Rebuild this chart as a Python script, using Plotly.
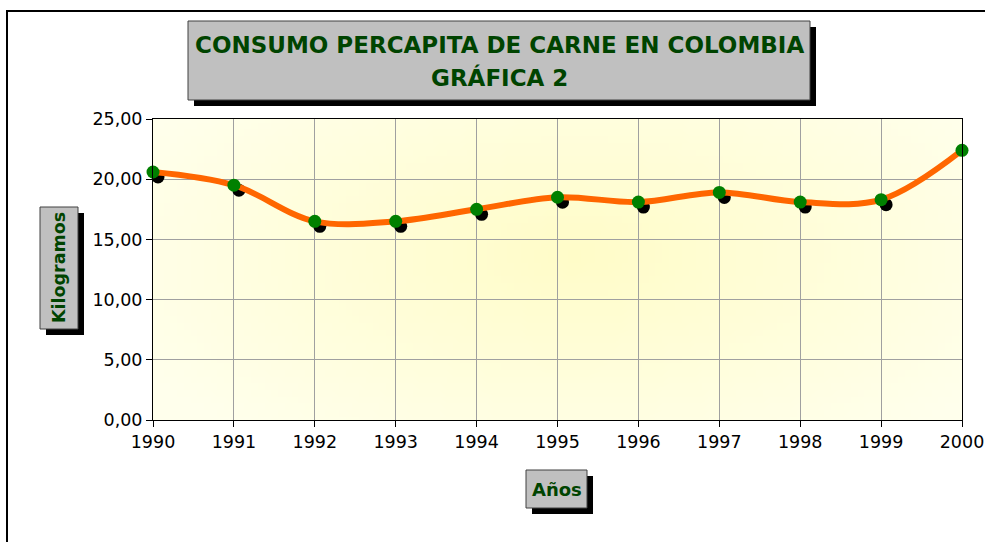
import base64
import struct
import zlib

import plotly.graph_objects as go

years = [1990, 1991, 1992, 1993, 1994, 1995, 1996, 1997, 1998, 1999, 2000]
consumo_kg = [20.6, 19.5, 16.5, 16.5, 17.5, 18.5, 18.1, 18.9, 18.1, 18.3, 22.4]
y_ticks = [0, 5, 10, 15, 20, 25]

title_lines = ["CONSUMO PERCAPITA DE CARNE EN COLOMBIA", "GRÁFICA 2"]
x_title = "Años"
y_title = "Kilogramos"

W, H = 985, 542
L, R, T, B = 153, 23, 119, 122
PW, PH = W - L - R, H - T - B
X0, X1 = years[0], years[-1]
Y0, Y1 = 0, 25


def px(x):
    return (x - L) / PW


def py(y):
    return (H - B - y) / PH


# radial gradient background image for the plot area
def gradient_png(w=120, h=45, c_in=(255, 252, 200), c_out=(255, 255, 236)):
    rows = b""
    for j in range(h):
        row = b"\x00"
        for i in range(w):
            u = (i + 0.5) / w - 0.52
            v = (j + 0.5) / h - 0.45
            t = min(1.0, ((u / 0.62) ** 2 + (v / 0.75) ** 2) ** 0.5)
            row += bytes(int(round(a + (b - a) * t)) for a, b in zip(c_in, c_out))
        rows += row

    def chunk(tag, data):
        c = struct.pack(">I", len(data)) + tag + data
        return c + struct.pack(">I", zlib.crc32(tag + data) & 0xFFFFFFFF)

    png = b"\x89PNG\r\n\x1a\n" + chunk(b"IHDR", struct.pack(">IIBBBBB", w, h, 8, 2, 0, 0, 0))
    png += chunk(b"IDAT", zlib.compress(rows)) + chunk(b"IEND", b"")
    return "data:image/png;base64," + base64.b64encode(png).decode()


# shadow offset of markers (pixels -> data units)
sh = 5
dx = sh * (X1 - X0) / PW
dy = sh * (Y1 - Y0) / PH

fig = go.Figure()
fig.add_trace(go.Scatter(
    x=[v + dx for v in years], y=[v - dy for v in consumo_kg],
    mode="markers", marker=dict(color="black", size=13),
    cliponaxis=False, hoverinfo="skip", showlegend=False))
fig.add_trace(go.Scatter(
    x=years, y=consumo_kg, mode="lines",
    line=dict(color="#FF6600", width=6, shape="spline", smoothing=1.0),
    cliponaxis=False, showlegend=False))
fig.add_trace(go.Scatter(
    x=years, y=consumo_kg, mode="markers",
    marker=dict(color="#008000", size=13),
    cliponaxis=False, showlegend=False))

shapes = []
# outer chart border
shapes.append(dict(type="rect", xref="paper", yref="paper",
                   x0=px(7), x1=px(995), y0=py(11), y1=py(560),
                   line=dict(color="black", width=2), fillcolor="rgba(0,0,0,0)", layer="below"))


def box(x0, y0, x1, y1, off):
    shapes.append(dict(type="rect", xref="paper", yref="paper",
                       x0=px(x0 + off), x1=px(x1 + off), y0=py(y0 + off), y1=py(y1 + off),
                       line=dict(width=0), fillcolor="black", layer="above"))
    shapes.append(dict(type="rect", xref="paper", yref="paper",
                       x0=px(x0), x1=px(x1), y0=py(y0), y1=py(y1),
                       line=dict(color="#404040", width=1), fillcolor="#C0C0C0", layer="above"))


box(188, 21, 810, 100, 6)
box(526, 470, 587, 508, 6)
box(40, 207, 78, 329, 6)

green = "#004400"


def note(x, y, text, size, angle=0):
    return dict(xref="paper", yref="paper", x=px(x), y=py(y), text="<b>" + text + "</b>",
                xanchor="center", yanchor="middle", textangle=angle,
                showarrow=False, font=dict(family="DejaVu Sans", size=size, color=green))


annotations = [
    note(499, 45, title_lines[0], 23),
    note(499, 77, title_lines[1], 23),
    note(556.5, 489, x_title, 18),
    note(59, 268, y_title, 17.5, -90),
]

fig.update_layout(
    width=W, height=H,
    margin=dict(l=L, r=R, t=T, b=B, autoexpand=False),
    paper_bgcolor="white",
    plot_bgcolor="#FFFFEC",
    separators=",.",
    font=dict(family="DejaVu Sans", size=17.5, color="black"),
    shapes=shapes,
    annotations=annotations,
    images=[dict(source=gradient_png(), xref="paper", yref="paper", x=0, y=1, sizex=1, sizey=1,
                 xanchor="left", yanchor="top", sizing="stretch", layer="below")],
    xaxis=dict(range=[X0, X1], tickmode="array", tickvals=years, ticktext=[str(y) for y in years],
               showgrid=True, gridcolor="#A0A0A0", gridwidth=1, automargin=False,
               showline=True, linecolor="black", linewidth=1, mirror=True,
               ticks="outside", ticklen=6, tickcolor="black", zeroline=False, fixedrange=True),
    yaxis=dict(range=[Y0, Y1], tickmode="array", tickvals=y_ticks, tickformat=".2f",
               showgrid=True, gridcolor="#A0A0A0", gridwidth=1, automargin=False,
               showline=True, linecolor="black", linewidth=1, mirror=True,
               ticks="outside", ticklen=6, tickcolor="black", zeroline=False, fixedrange=True),
)

fig.write_html("out.html", config={"displayModeBar": False},
               post_script="document.body.style.margin='0';document.body.style.overflow='hidden';")
